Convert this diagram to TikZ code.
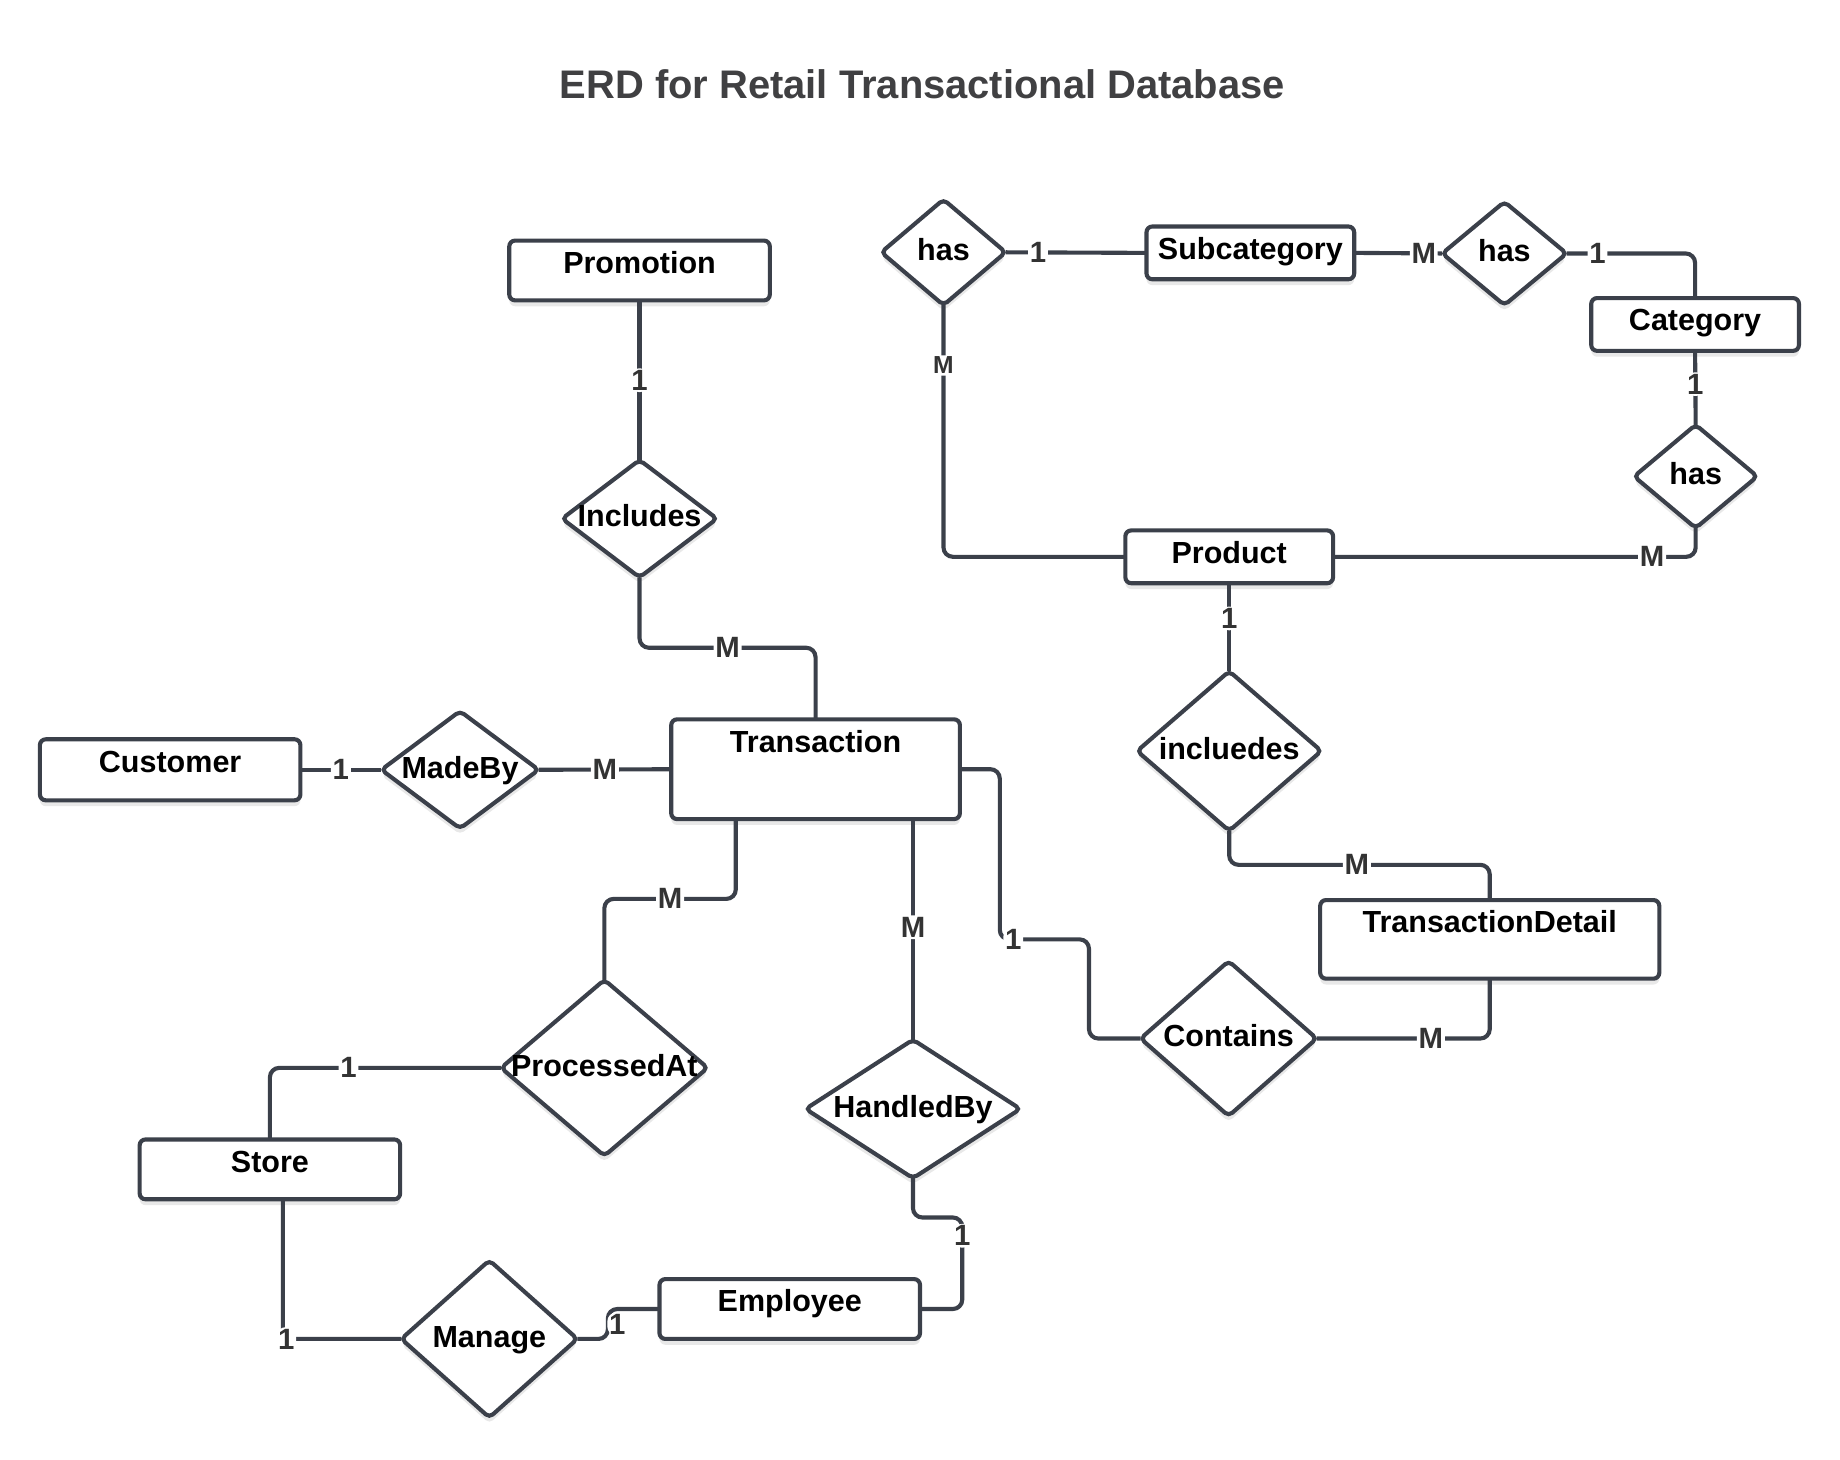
\documentclass[tikz,border=0pt]{standalone}
\usepackage{fontspec}
\setmainfont{Liberation Sans}
\usetikzlibrary{shapes.geometric,shadows}
\definecolor{linec}{RGB}{59,64,74}
\definecolor{cardc}{RGB}{51,51,51}
\definecolor{titlec}{RGB}{64,64,66}
\tikzstyle{entity} = [rectangle, draw=linec, line width=3.5pt, fill=white,
    rounded corners=5pt, inner sep=0pt, outer sep=0pt, text height=28pt, anchor=north west,
    font=\fontsize{26}{26}\selectfont\bfseries,
    drop shadow={shadow xshift=0pt, shadow yshift=-5pt, opacity=0.18}]
\tikzstyle{relation} = [diamond, draw=linec, line width=3.5pt, fill=white,
    rounded corners=4pt, inner sep=0pt, outer sep=0pt, text height=18pt, text depth=4pt,
    font=\fontsize{26}{26}\selectfont\bfseries,
    drop shadow={shadow xshift=0pt, shadow yshift=-5pt, opacity=0.18}]
\tikzstyle{link} = [draw=linec, line width=3.5pt, rounded corners=8pt]
\tikzstyle{card} = [fill=white, inner sep=1.5pt, text=cardc,
    font=\fontsize{25}{25}\selectfont\bfseries]
\newcommand{\reltext}[1]{\makebox[0pt]{#1}}

\begin{document}
\begin{tikzpicture}[x=1pt,y=-1pt]
  \useasboundingbox (0,0) rectangle (1568,1244);

  \node[font=\fontsize{34}{34}\selectfont\bfseries, text=titlec] (title) at (786,72)
       {ERD for Retail Transactional Database};

  % entities
  \node[entity, minimum width=222pt, text depth=23pt] (promo)  at (434,205)  {Promotion};
  \node[entity, minimum width=246pt, text depth=57pt] (trans)  at (572,613)  {Transaction};
  \node[entity, minimum width=289pt, text depth=39pt] (detail) at (1125,767) {TransactionDetail};
  \node[entity, minimum width=222pt, text depth=24pt] (cust)   at (34,630)   {Customer};
  \node[entity, minimum width=222pt, text depth=23pt] (store)  at (119,971)  {Store};
  \node[entity, minimum width=222pt, text depth=23pt] (emp)    at (562,1090) {Employee};
  \node[entity, minimum width=177pt, text depth=17pt] (subcat) at (977,193)  {Subcategory};
  \node[entity, minimum width=177pt, text depth=17pt] (cat)    at (1356,254) {Category};
  \node[entity, minimum width=177pt, text depth=17pt] (prod)   at (959,452)  {Product};

  % relationships
  \node[relation, minimum width=106pt, minimum height=90pt]  (hasA)     at (804,215)  {\reltext{has}};
  \node[relation, minimum width=106pt, minimum height=88pt]  (hasB)     at (1282,216) {\reltext{has}};
  \node[relation, minimum width=105pt, minimum height=88pt]  (hasC)     at (1445,406) {\reltext{has}};
  \node[relation, minimum width=132pt, minimum height=100pt] (incl)     at (545,442)  {\reltext{Includes}};
  \node[relation, minimum width=134pt, minimum height=100pt] (madeby)   at (392,656)  {\reltext{MadeBy}};
  \node[relation, minimum width=157pt, minimum height=136pt] (inclds)   at (1047.5,640) {\reltext{incluedes}};
  \node[relation, minimum width=176pt, minimum height=150pt] (proc)     at (515,910)  {\reltext{ProcessedAt}};
  \node[relation, minimum width=183pt, minimum height=118pt] (handled)  at (778,945)  {\reltext{HandledBy}};
  \node[relation, minimum width=150pt, minimum height=132pt] (contains) at (1047,885) {\reltext{Contains}};
  \node[relation, minimum width=150pt, minimum height=134pt] (manage)   at (417,1141) {\reltext{Manage}};

  % connectors
  \path[link] (promo.south) -- node[card] (c1) {1} (incl.north);
  \path[link] (incl.south) |- node[card, pos=0.75] (c2) {M} ([yshift=61pt]trans.north) -- (trans.north);
  \path[link] (cust.east) -- node[card] (c3) {1} (madeby.west);
  \path[link] (madeby.east) -- node[card] (c4) {M} (trans.west);
  \path[link] ([xshift=55pt]trans.south west) |- node[card, pos=0.75] (c5) {M}
        ([yshift=69pt]proc.north) -- (proc.north);
  \path[link] (handled.north |- trans.south) -- node[card, pos=0.49] (c6) {M} (handled.north);
  \path[link] (trans.east) -- ++(34,0) -- ++(0,145) -- node[card, pos=0.15] (c7) {1} ++(76,0)
        |- (contains.west);
  \path[link] (contains.east) -| node[card, pos=0.33] (c8) {M} (detail.south);
  \path[link] (proc.west) -| node[card, pos=0.33] (c9) {1} (store.north);
  \path[link] ([xshift=122pt]store.south west) |- node[card, pos=0.5, xshift=3pt] (c10) {1} (manage.west);
  \path[link] (manage.east) -- ++(26,0) |- node[card, pos=0.25, xshift=8pt] (c11) {1} (emp.west);
  \path[link] (emp.east) -- ++(36,0) -- node[card, pos=0.8] (c12) {1} ++(0,-78) -| (handled.south);
  \path[link] (hasA.east) -- node[card, pos=0.23] (c13) {1} (subcat.west);
  \path[link] (hasA.south) |- node[card, pos=0.12, font=\fontsize{21}{21}\selectfont\bfseries] (c14) {M} (prod.west);
  \path[link] (subcat.east) -- node[card, pos=0.79] (c15) {M} (hasB.west);
  \path[link] (hasB.east) -| node[card, pos=0.12] (c16) {1} (cat.north);
  \path[link] (cat.south) -- node[card, pos=0.45] (c17) {1} (hasC.north);
  \path[link] (hasC.south) |- node[card, pos=0.56] (c18) {M} (prod.east);
  \path[link] (prod.south) -- node[card, pos=0.4] (c19) {1} (inclds.north);
  \path[link] (inclds.south) |- node[card, pos=0.745] (c20) {M} ([yshift=30pt]detail.north) -- (detail.north);
\end{tikzpicture}
\end{document}
